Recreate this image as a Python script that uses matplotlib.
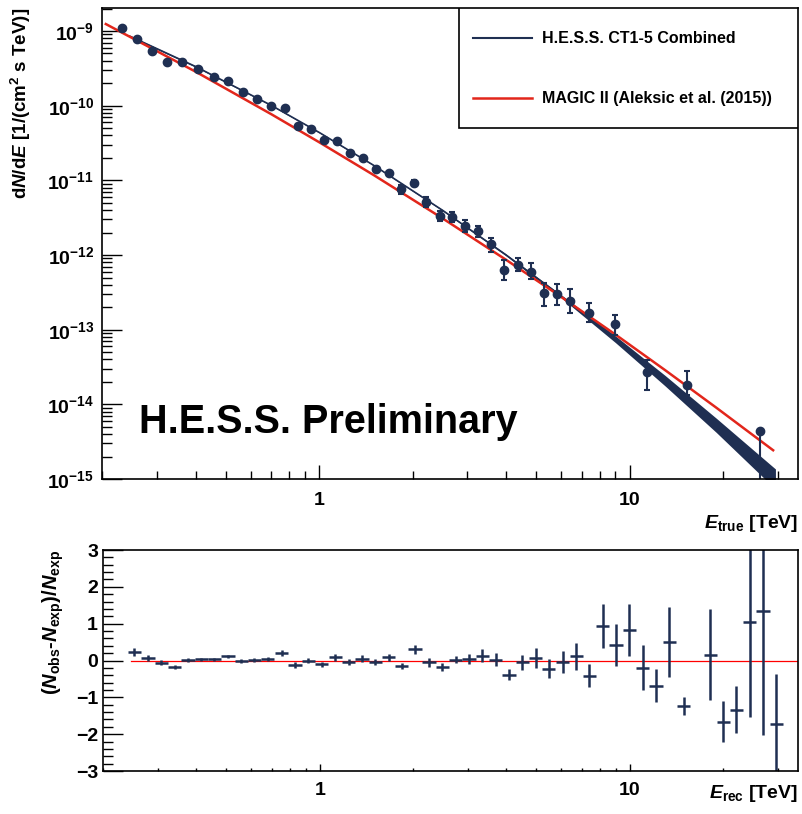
import numpy as np
import matplotlib
matplotlib.use("Agg")
import matplotlib.pyplot as plt
from matplotlib.ticker import FixedLocator, FixedFormatter, LogLocator, NullFormatter, MultipleLocator
from matplotlib.patches import Rectangle

plt.rcParams['font.family'] = ['Liberation Sans', 'DejaVu Sans']
plt.rcParams['font.weight'] = 'bold'
plt.rcParams['axes.labelweight'] = 'bold'
plt.rcParams['mathtext.fontset'] = 'custom'
plt.rcParams['mathtext.rm'] = 'Liberation Sans:bold'
plt.rcParams['mathtext.bf'] = 'Liberation Sans:bold'
plt.rcParams['mathtext.it'] = 'Liberation Sans:italic:bold'

navy = '#1f2f52'
red = '#e2261b'

# spectral points (true energy, TeV) and flux dN/dE
energy = [0.232, 0.259, 0.289, 0.323, 0.361, 0.406, 0.456, 0.508, 0.567, 0.628,
          0.698, 0.772, 0.852, 0.938, 1.035, 1.142, 1.254, 1.380, 1.519, 1.673,
          1.832, 2.016, 2.214, 2.443, 2.683, 2.953, 3.250, 3.577, 3.947, 4.353,
          4.806, 5.302, 5.824, 6.423, 7.390, 9.00, 11.40, 15.33, 26.4]
flux = [1.09e-9, 7.81e-10, 5.44e-10, 3.88e-10, 3.88e-10, 3.13e-10, 2.44e-10, 2.12e-10, 1.51e-10, 1.23e-10,
        1.00e-10, 9.23e-11, 5.35e-11, 4.88e-11, 3.44e-11, 3.34e-11, 2.29e-11, 1.98e-11, 1.41e-11, 1.25e-11,
        7.60e-12, 9.14e-12, 5.19e-12, 3.37e-12, 3.27e-12, 2.48e-12, 2.10e-12, 1.40e-12, 6.32e-13, 7.37e-13,
        6.00e-13, 3.14e-13, 3.02e-13, 2.45e-13, 1.69e-13, 1.19e-13, 2.75e-14, 1.79e-14, 4.46e-15]
# relative errors (down, up)
flux_err_lo = [0.03] * 12 + [0.05] * 8 + [0.14, 0.09, 0.15, 0.14, 0.15, 0.17, 0.18, 0.22,
               0.26, 0.17, 0.20, 0.33, 0.30, 0.31, 0.24, 0.28, 0.43, 0.25, 0.82]
flux_err_hi = [0.03] * 12 + [0.05] * 8 + [0.14, 0.09, 0.15, 0.14, 0.15, 0.17, 0.18, 0.22,
               0.36, 0.24, 0.32, 0.35, 0.36, 0.44, 0.36, 0.33, 0.43, 0.58, 0.03]

# H.E.S.S. fitted model, with band half-width (dex)
hess_energy = [0.245, 0.4, 0.7, 1.0, 1.5, 2.5, 4.0, 6.0, 9.0, 13.0, 19.0, 29.5]
hess_flux = [8.53e-10, 3.33e-10, 1.01e-10, 4.37e-11, 1.58e-11, 3.95e-12,
             1.0e-12, 2.83e-13, 7.45e-14, 2.08e-14, 5.26e-15, 1.0e-15]
hess_band = [0.01, 0.008, 0.006, 0.006, 0.006, 0.008, 0.012, 0.02, 0.045, 0.07, 0.095, 0.135]

# MAGIC II reference spectrum
magic_energy = [0.205, 0.4, 0.7, 1.0, 1.5, 2.5, 4.0, 6.0, 9.0, 13.0, 19.0, 29.0]
magic_flux = [1.24e-9, 2.84e-10, 7.69e-11, 3.23e-11, 1.17e-11, 3.08e-12,
              8.61e-13, 2.77e-13, 8.61e-14, 2.88e-14, 9.06e-15, 2.43e-15]

# residuals vs reconstructed energy
res_energy = [0.2525, 0.2795, 0.3084, 0.3404, 0.3760, 0.4150, 0.4578, 0.5057, 0.5580, 0.6160,
              0.6804, 0.7547, 0.8326, 0.9190, 1.015, 1.122, 1.240, 1.368, 1.510, 1.668,
              1.840, 2.031, 2.253, 2.489, 2.746, 3.030, 3.346, 3.693, 4.076, 4.501,
              4.968, 5.483, 6.082, 6.718, 7.413, 8.182, 9.035, 9.970, 11.00, 12.15,
              13.41, 14.91, 18.17, 20.01, 22.09, 24.39, 26.92, 29.71]
residual = [0.23, 0.08, -0.06, -0.18, 0.02, 0.03, 0.03, 0.11, -0.01, 0.02,
            0.04, 0.20, -0.12, 0.0, -0.10, 0.09, -0.04, 0.05, -0.05, 0.09,
            -0.14, 0.31, -0.05, -0.18, 0.02, 0.04, 0.135, 0.02, -0.39, -0.05,
            0.08, -0.22, -0.03, 0.11, -0.41, 0.94, 0.43, 0.83, -0.19, -0.68,
            0.50, -1.23, 0.16, -1.66, -1.33, 1.05, 1.34, -1.72]
res_err = [0.12, 0.08, 0.07, 0.05, 0.05, 0.05, 0.05, 0.05, 0.05, 0.05,
           0.05, 0.09, 0.07, 0.07, 0.07, 0.09, 0.07, 0.09, 0.08, 0.10,
           0.08, 0.12, 0.12, 0.10, 0.10, 0.14, 0.17, 0.18, 0.15, 0.20,
           0.27, 0.26, 0.30, 0.37, 0.31, 0.60, 0.57, 0.71, 0.60, 0.45,
           0.95, 0.25, 1.23, 0.56, 0.63, 2.58, 3.35, 1.36]
res_bin_halfwidth = 0.0214  # in log10(E)
res_line_energy = [0.247, 35.0]

E = np.array(energy)
F = np.array(flux)
hE = np.array(hess_energy)
hF = np.array(hess_flux)
hB = np.array(hess_band)
rE = np.array(res_energy)

fig = plt.figure(figsize=(8.02, 8.14), dpi=100)
ax = fig.add_axes([0.1278, 0.4115, 0.8678, 0.5786])
axr = fig.add_axes([0.1284, 0.0528, 0.8672, 0.2715])

# ---- main spectrum panel
ax.fill_between(hE, hF * 10 ** (-hB), hF * 10 ** hB, color=navy, lw=0)
ax.plot(hE, hF, color=navy, lw=1.2)
ax.plot(magic_energy, magic_flux, color=red, lw=1.8)
ax.errorbar(E, F, yerr=[F * np.array(flux_err_lo), F * np.array(flux_err_hi)],
            fmt='o', ms=6, color=navy, elinewidth=1.5, capsize=2.2, capthick=1.5)

ax.set_xscale('log')
ax.set_yscale('log')
ax.set_xlim(0.2, 35)
ax.set_ylim(1e-15, 2.03e-9)

ax.xaxis.set_major_locator(FixedLocator([1, 10]))
ax.xaxis.set_major_formatter(FixedFormatter(['1', '10']))
ax.xaxis.set_minor_locator(LogLocator(subs=np.arange(2, 10)))
ax.xaxis.set_minor_formatter(NullFormatter())
ydec = [1e-15, 1e-14, 1e-13, 1e-12, 1e-11, 1e-10, 1e-9]
ax.yaxis.set_major_locator(FixedLocator(ydec))
ax.yaxis.set_major_formatter(FixedFormatter([r'$\mathrm{10^{%d}}$' % p for p in range(-15, -8)]))
ax.yaxis.set_minor_locator(LogLocator(subs=np.arange(2, 10), numticks=20))
ax.yaxis.set_minor_formatter(NullFormatter())

ax.tick_params(which='both', direction='in', top=False, right=False, width=1.0, labelsize=14)
ax.tick_params(axis='x', which='major', length=10, pad=9)
ax.tick_params(axis='x', which='minor', length=5.8)
ax.tick_params(axis='y', which='major', length=14.4, pad=6)
ax.tick_params(axis='y', which='minor', length=7.2)
for s in ax.spines.values():
    s.set_linewidth(1.2)

ax.set_ylabel(r'd$\it{N}$/d$\it{E}$ [1/(cm$^{\mathrm{2}}$ s TeV)]', fontsize=13.5, loc='top')
ax.yaxis.set_label_coords(-0.100, 1.0)
ax.set_xlabel(r'$\it{E}_{\mathrm{true}}$ [TeV]', fontsize=14, loc='right')
ax.xaxis.set_label_coords(1.0, -0.072)

ax.text(0.052, 0.098, 'H.E.S.S. Preliminary', transform=ax.transAxes,
        fontsize=28.5, fontweight='bold', color='black', va='baseline', ha='left')

# legend box
ax.add_patch(Rectangle((0.512, 0.745), 0.488, 0.255, transform=ax.transAxes,
                       fill=True, facecolor='white', edgecolor='black', lw=1.2, zorder=5))
ax.plot([0.532, 0.617], [0.936, 0.936], transform=ax.transAxes, color=navy, lw=1.5, zorder=6)
ax.plot([0.532, 0.617], [0.809, 0.809], transform=ax.transAxes, color=red, lw=1.8, zorder=6)
ax.text(0.631, 0.936, 'H.E.S.S. CT1-5 Combined', transform=ax.transAxes,
        fontsize=11.5, fontweight='bold', va='center', zorder=6)
ax.text(0.631, 0.809, 'MAGIC II (Aleksic et al. (2015))', transform=ax.transAxes,
        fontsize=11.5, fontweight='bold', va='center', zorder=6)

# ---- residual panel
axr.plot(res_line_energy, [0, 0], color='red', lw=0.9)
xlo = rE - rE * 10 ** (-res_bin_halfwidth)
xhi = rE * 10 ** res_bin_halfwidth - rE
axr.errorbar(rE, residual, xerr=[xlo, xhi], yerr=res_err, fmt='none',
             ecolor=navy, elinewidth=1.8, capsize=0)

axr.set_xscale('log')
axr.set_xlim(0.2, 35)
axr.set_ylim(-3, 3)
axr.xaxis.set_major_locator(FixedLocator([1, 10]))
axr.xaxis.set_major_formatter(FixedFormatter(['1', '10']))
axr.xaxis.set_minor_locator(LogLocator(subs=np.arange(2, 10)))
axr.xaxis.set_minor_formatter(NullFormatter())
axr.yaxis.set_major_locator(MultipleLocator(1))
axr.yaxis.set_minor_locator(MultipleLocator(0.2))

axr.tick_params(which='both', direction='in', top=False, right=False, width=1.0, labelsize=14)
axr.tick_params(axis='x', which='major', length=5, pad=8)
axr.tick_params(axis='x', which='minor', length=2.4)
axr.tick_params(axis='y', which='major', length=14.4, pad=3.5)
axr.tick_params(axis='y', which='minor', length=7.2)
for s in axr.spines.values():
    s.set_linewidth(1.2)

axr.set_ylabel(r'($\it{N}_{\mathrm{obs}}$-$\it{N}_{\mathrm{exp}}$)/$\it{N}_{\mathrm{exp}}$',
               fontsize=14.5, loc='top')
axr.yaxis.set_label_coords(-0.053, 1.0)
axr.set_xlabel(r'$\it{E}_{\mathrm{rec}}$ [TeV]', fontsize=14, loc='right')
axr.xaxis.set_label_coords(1.0, -0.055)

fig.savefig('out.png', dpi=100)
